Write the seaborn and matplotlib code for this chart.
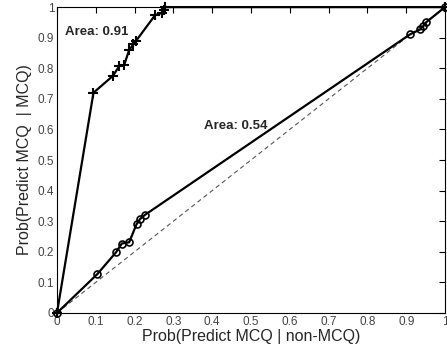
import matplotlib
matplotlib.use("Agg")
import matplotlib.pyplot as plt
import seaborn as sns
import pandas as pd

sns.set_theme(style="white")
plt.rcParams['font.family'] = ['Liberation Sans', 'DejaVu Sans']

# MCQ curve (+ markers)
mcq_x = [0.0, 0.094, 0.144, 0.161, 0.173, 0.186, 0.197, 0.204, 0.253, 0.270, 0.276, 0.278, 1.0]
mcq_y = [0.0, 0.72, 0.775, 0.808, 0.81, 0.86, 0.878, 0.89, 0.974, 0.981, 0.99, 1.0, 1.0]
# second curve (o markers)
oth_x = [0.0, 0.104, 0.152, 0.167, 0.186, 0.205, 0.214, 0.226, 0.91, 0.936, 0.944, 0.951, 1.0]
oth_y = [0.0, 0.127, 0.198, 0.227, 0.231, 0.29, 0.307, 0.32, 0.911, 0.927, 0.938, 0.95, 1.0]
diag = [0.0, 1.0]
area_labels = ["Area: 0.91", "Area: 0.54"]

fig = plt.figure(figsize=(4.47, 3.56), dpi=100)
ax = fig.add_axes([0.1275, 0.121, 0.868, 0.859])

df1 = pd.DataFrame({"x": mcq_x, "y": mcq_y})
df2 = pd.DataFrame({"x": oth_x, "y": oth_y})
sns.lineplot(x=diag, y=diag, ax=ax, color="#555555", lw=0.8, linestyle=(0, (4, 3)))
sns.lineplot(data=df1, x="x", y="y", ax=ax, color="black", lw=1.6,
             marker="+", markersize=7, markeredgewidth=1.5, markeredgecolor="black",
             sort=False, estimator=None, clip_on=False, zorder=5)
sns.lineplot(data=df2, x="x", y="y", ax=ax, color="black", lw=1.6,
             marker="o", markersize=5, markerfacecolor="none", markeredgewidth=1.2,
             markeredgecolor="black", sort=False, estimator=None, clip_on=False, zorder=5)

ax.text(0.02, 0.92, area_labels[0], fontsize=9.5, fontweight="bold", va="center")
ax.text(0.38, 0.61, area_labels[1], fontsize=9.5, fontweight="bold", va="center")

ax.set_xlim(0, 1)
ax.set_ylim(0, 1)
ticks = [0, 0.1, 0.2, 0.3, 0.4, 0.5, 0.6, 0.7, 0.8, 0.9, 1]
ax.set_xticks(ticks)
ax.set_yticks(ticks)
ax.set_xticklabels(["0", "0.1", "0.2", "0.3", "0.4", "0.5", "0.6", "0.7", "0.8", "0.9", "1"])
ax.set_yticklabels(["0", "0.1", "0.2", "0.3", "0.4", "0.5", "0.6", "0.7", "0.8", "0.9", "1"])
ax.tick_params(direction="in", length=4, width=0.8, labelsize=8.5, colors="black",
               labelcolor="#444444", top=True, right=True, pad=2)
for s in ax.spines.values():
    s.set_color("black")
    s.set_linewidth(0.8)
ax.set_xlabel("Prob(Predict MCQ | non-MCQ)", fontsize=11.5, labelpad=1)
ax.set_ylabel("Prob(Predict MCQ  | MCQ)", fontsize=11.5, labelpad=4)

fig.savefig("out.png", dpi=100)
